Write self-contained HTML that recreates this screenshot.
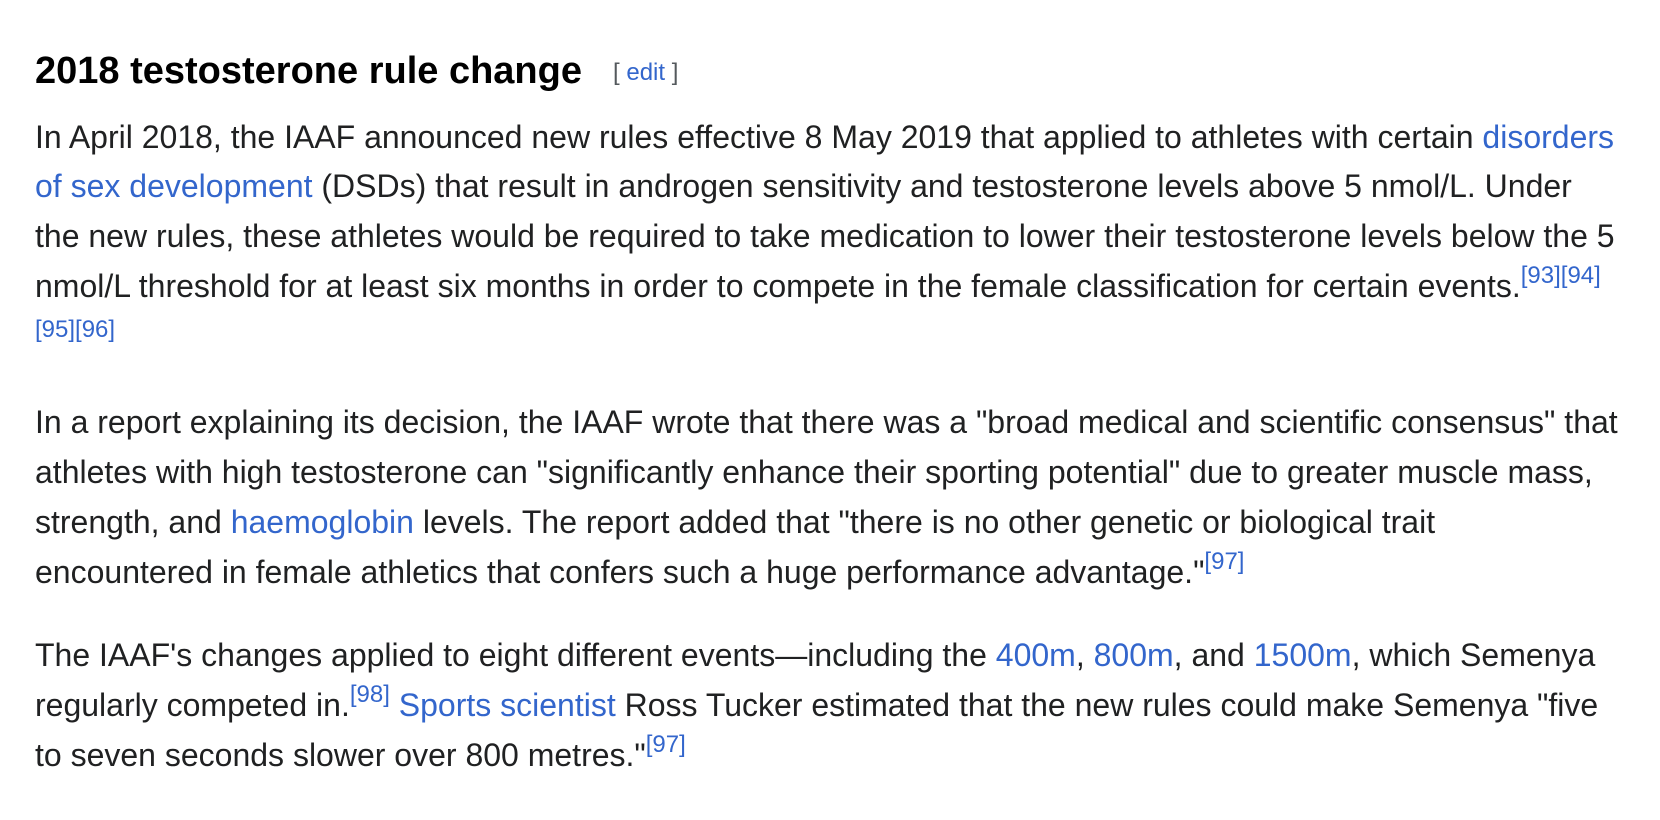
<!DOCTYPE html>
<html><head><meta charset="utf-8">
<style>
html,body{margin:0;padding:0;background:#fff;}
body{width:1660px;height:820px;position:relative;overflow:hidden;font-family:"Liberation Sans",Arial,sans-serif;color:#202122;}
.h{position:absolute;left:35px;top:49px;font-size:38px;font-weight:bold;line-height:44px;color:#000;white-space:nowrap;}
.edit{position:absolute;left:613px;top:58px;font-size:24px;line-height:30px;color:#54595d;white-space:nowrap;}
.l{position:absolute;left:35px;font-size:32px;line-height:50px;white-space:nowrap;}
a{color:#3366cc;text-decoration:none;}
sup{font-size:24px;line-height:0;vertical-align:0;position:relative;top:-14px;}
.refs{position:absolute;left:35px;top:316px;font-size:24px;line-height:28px;white-space:nowrap;}
</style></head>
<body>
<div class="h">2018 testosterone rule change</div>
<div class="edit">[ <a href="#">edit</a> ]</div>

<div class="l" style="top:112px">In April 2018, the IAAF announced new rules effective 8 May 2019 that applied to athletes with certain <a href="#">disorders</a></div>
<div class="l" style="top:161px"><a href="#">of sex development</a> (DSDs) that result in androgen sensitivity and testosterone levels above 5 nmol/L. Under</div>
<div class="l" style="top:211px">the new rules, these athletes would be required to take medication to lower their testosterone levels below the 5</div>
<div class="l" style="top:261px">nmol/L threshold for at least six months in order to compete in the female classification for certain events.<sup><a href="#">[93]</a><a href="#">[94]</a></sup></div>
<div class="refs"><a href="#">[95]</a><a href="#">[96]</a></div>

<div class="l" style="top:397px">In a report explaining its decision, the IAAF wrote that there was a "broad medical and scientific consensus" that</div>
<div class="l" style="top:447px">athletes with high testosterone can "significantly enhance their sporting potential" due to greater muscle mass,</div>
<div class="l" style="top:497px">strength, and <a href="#">haemoglobin</a> levels. The report added that "there is no other genetic or biological trait</div>
<div class="l" style="top:547px">encountered in female athletics that confers such a huge performance advantage."<sup><a href="#">[97]</a></sup></div>

<div class="l" style="top:630px">The IAAF's changes applied to eight different events—including the <a href="#">400m</a>, <a href="#">800m</a>, and <a href="#">1500m</a>, which Semenya</div>
<div class="l" style="top:680px">regularly competed in.<sup><a href="#">[98]</a></sup> <a href="#">Sports scientist</a> Ross Tucker estimated that the new rules could make Semenya "five</div>
<div class="l" style="top:730px">to seven seconds slower over 800 metres."<sup><a href="#">[97]</a></sup></div>
</body></html>
